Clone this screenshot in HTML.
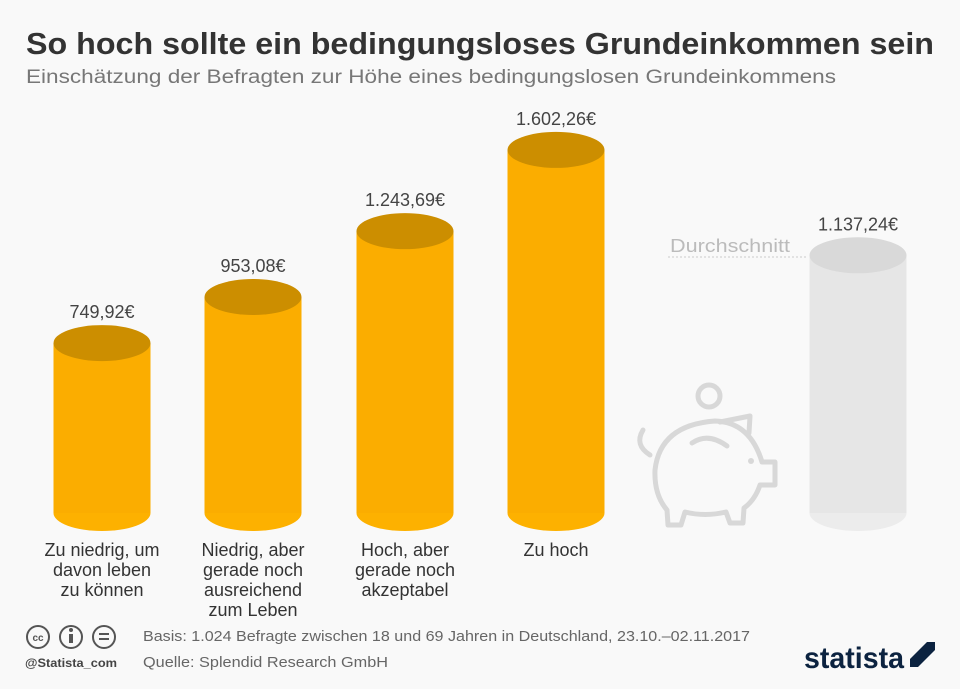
<!DOCTYPE html>
<html><head><meta charset="utf-8"><style>
body{margin:0;background:#f9f9f9;width:960px;height:684px;overflow:hidden;font-family:"Liberation Sans",sans-serif;}
</style></head><body>
<svg width="960" height="684" xmlns="http://www.w3.org/2000/svg">
<rect width="960" height="684" fill="#f9f9f9"/>
<text x="26" y="54" font-size="31" font-weight="bold" fill="#333" textLength="908" lengthAdjust="spacingAndGlyphs">So hoch sollte ein bedingungsloses Grundeinkommen sein</text>
<text x="26" y="83" font-size="19" fill="#777" textLength="810" lengthAdjust="spacingAndGlyphs">Einschätzung der Befragten zur Höhe eines bedingungslosen Grundeinkommens</text>
<g id="bars"></g>
<text x="790" y="252" font-size="18" fill="#bbb" text-anchor="end" textLength="120" lengthAdjust="spacingAndGlyphs">Durchschnitt</text>
<line x1="668" y1="257" x2="808" y2="257" stroke="#ccc" stroke-dasharray="2,2"/>
<g fill="none" stroke="#d8d8d8" stroke-width="5" stroke-linecap="round" stroke-linejoin="round">
<circle cx="709" cy="396" r="11"/>
<path d="M643 430 Q634 445 650 455"/>
<path d="M720 422 L750 416 L749 433"/>
<path d="M655 470 Q660 425 715 421 Q750 422 762 462 L775 462 L775 485 L760 485 Q755 500 744 508 L743 523 L730 523 L726 512 Q705 517 685 512 L681 525 L668 525 L667 510 Q654 495 655 470 Z"/>
<path d="M692 443 Q708 432 727 446"/>
</g>
<circle cx="751" cy="461" r="3" fill="#d8d8d8"/>
<g fill="#333" font-size="18" text-anchor="middle">
<text x="102" y="556">Zu niedrig, um</text><text x="102" y="576">davon leben</text><text x="102" y="596">zu können</text>
<text x="253" y="556">Niedrig, aber</text><text x="253" y="576">gerade noch</text><text x="253" y="596">ausreichend</text><text x="253" y="616">zum Leben</text>
<text x="405" y="556">Hoch, aber</text><text x="405" y="576">gerade noch</text><text x="405" y="596">akzeptabel</text>
<text x="556" y="556">Zu hoch</text>
</g>
<g fill="none" stroke="#555" stroke-width="2">
<circle cx="38" cy="637" r="11"/><circle cx="71" cy="637" r="11"/><circle cx="104" cy="637" r="11"/>
</g>
<text x="38" y="641" font-size="10" font-weight="bold" fill="#555" text-anchor="middle">cc</text>
<rect x="69" y="634" width="4" height="9" fill="#555"/><circle cx="71" cy="630" r="2" fill="#555"/>
<rect x="99" y="633" width="10" height="2" fill="#555"/><rect x="99" y="638" width="10" height="2" fill="#555"/>
<text x="25" y="667" font-size="12" fill="#444" font-weight="bold" textLength="92" lengthAdjust="spacingAndGlyphs">@Statista_com</text>
<text x="143" y="641" font-size="15" fill="#666" textLength="607" lengthAdjust="spacingAndGlyphs">Basis: 1.024 Befragte zwischen 18 und 69 Jahren in Deutschland, 23.10.–02.11.2017</text>
<text x="143" y="667" font-size="15" fill="#666" textLength="245" lengthAdjust="spacingAndGlyphs">Quelle: Splendid Research GmbH</text>
<text x="804" y="668" font-size="30" font-weight="bold" fill="#0c2340" textLength="100" lengthAdjust="spacingAndGlyphs">statista</text>
<path d="M910 642 H935 V650 L918 667 H935 V667 H910 V659 L927 642 Z" fill="#0c2340"/>
</svg>
<script>
const categories=["Zu niedrig","Niedrig, aber ausreichend","Hoch, aber akzeptabel","Zu hoch","Durchschnitt"];
const values=[749.92,953.08,1243.69,1602.26,1137.24];
const valueLabels=["749,92€","953,08€","1.243,69€","1.602,26€","1.137,24€"];
const centers=[102,253,405,556,858];
const base=513, scale=0.2266, rx=48.5, ry=18;
const y=v=>base-v*scale;
const g=document.getElementById('bars');
const NS='http://www.w3.org/2000/svg';
values.forEach((v,i)=>{
  const avg=i===4;
  const side=avg?'#e6e6e6':'#fbad00', top=avg?'#d9d9d9':'#cc8e00', bot=avg?'#ececec':'#fdb100';
  const cx=centers[i], ty=y(v);
  const grp=document.createElementNS(NS,'g');
  
  
  const b=document.createElementNS(NS,'ellipse');
  b.setAttribute('cx',cx);b.setAttribute('cy',base);b.setAttribute('rx',rx);b.setAttribute('ry',ry);b.setAttribute('fill',bot);
  const r=document.createElementNS(NS,'rect');
  r.setAttribute('x',cx-rx);r.setAttribute('y',ty);r.setAttribute('width',rx*2);r.setAttribute('height',base-ty);r.setAttribute('fill',side);
  const t=document.createElementNS(NS,'ellipse');
  t.setAttribute('cx',cx);t.setAttribute('cy',ty);t.setAttribute('rx',rx);t.setAttribute('ry',ry);t.setAttribute('fill',top);
  const tx=document.createElementNS(NS,'text');
  tx.setAttribute('x',cx);tx.setAttribute('y',ty-25);tx.setAttribute('text-anchor','middle');tx.setAttribute('font-size','18');tx.setAttribute('fill','#444');
  
  
  tx.textContent=valueLabels[i];
  grp.append(b,r,t,tx);g.appendChild(grp);
});
</script>
</body></html>
